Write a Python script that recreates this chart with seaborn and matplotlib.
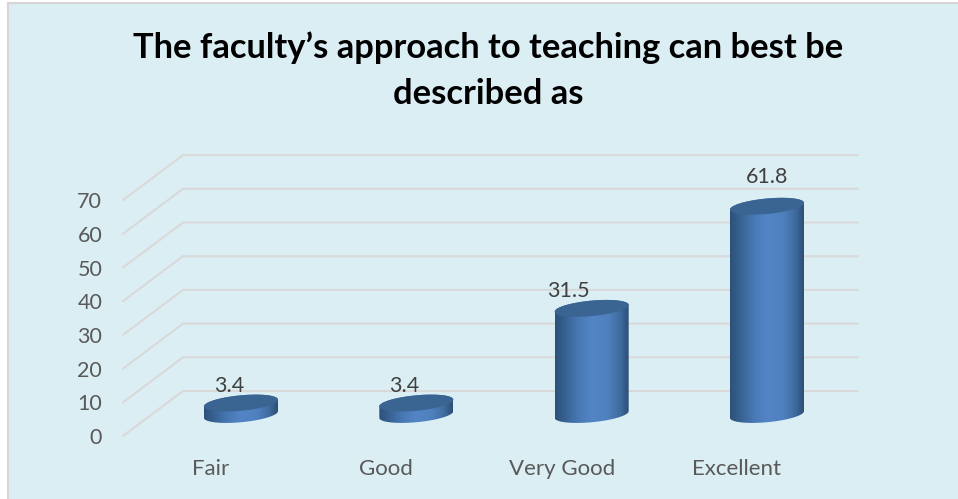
import numpy as np
import pandas as pd
import matplotlib
matplotlib.use("Agg")
import matplotlib.pyplot as plt
import seaborn as sns
from matplotlib.colors import LinearSegmentedColormap
from matplotlib.path import Path
from matplotlib.patches import PathPatch, Rectangle
from matplotlib.transforms import Affine2D

categories = ["Fair", "Good", "Very Good", "Excellent"]
values = [3.4, 3.4, 31.5, 61.8]
y_ticks = [0, 10, 20, 30, 40, 50, 60, 70]
title_lines = ["The faculty\u2019s approach to teaching can best be", "described as"]

W, H = 958, 499
BG = "#DBEEF4"
GRID = "#D9D9D9"
PX_X = 175.33          # pixels per category
PX_Y = 3.37            # pixels per value unit
X0, Y0 = 241, 414.5    # pixel of category 0 / value 0 in the bar plane
L, R, T, B = 123, 858, 150, 445

sns.set_style("white")
plt.rcParams["font.family"] = ["Lato", "DejaVu Sans"]

fig = plt.figure(figsize=(W / 100, H / 100), dpi=100, facecolor="white")
fig.add_artist(Rectangle((7.5 / W, 1 - 510 / H), 970 / W, 506.5 / H, zorder=-1,
                         transform=fig.transFigure, facecolor=BG, edgecolor="#D9D5D5", linewidth=1.5))
ax = fig.add_axes([L / W, 1 - B / H, (R - L) / W, (B - T) / H])
ax.patch.set_alpha(0)

df = pd.DataFrame({"category": categories, "value": values})
sns.barplot(data=df, x="category", y="value", color="#4F81BD", width=74 / PX_X, ax=ax, zorder=3)

ax.set_xlim((L - X0) / PX_X, (R - X0) / PX_X)
ax.set_ylim((Y0 - B) / PX_Y, (Y0 - T) / PX_Y)
ax.set_xlabel("")
ax.set_ylabel("")
sns.despine(ax=ax, left=True, bottom=True)

# perspective grid: front edge -> back wall -> right end
FRONT_DROP, BACK_RISE, BACK_X = 21.5, 23.5, 183
def dx(px):
    return (px - X0) / PX_X
for v in y_ticks:
    ys = [v - FRONT_DROP / PX_Y, v + BACK_RISE / PX_Y, v + BACK_RISE / PX_Y]
    ax.plot([dx(L), dx(BACK_X), dx(R)], ys, color=GRID, lw=1.5, zorder=1, clip_on=False)

# cylinders derived from the bars seaborn made
cmap = LinearSegmentedColormap.from_list("cyl", [
    (0.0, "#2E5079"), (0.12, "#35608F"), (0.32, "#4878B4"), (0.5, "#5385C6"),
    (0.72, "#4F80BE"), (0.88, "#3F6C9F"), (1.0, "#2D4E75")])
grad = np.linspace(0, 1, 256).reshape(1, -1)
TILT = np.deg2rad(5.4)
SEMI_B = 7.7

def ellipse(xc, yc, t):
    a = (74 / 2) / np.cos(TILT)
    ex = a * np.cos(t) * np.cos(TILT) - SEMI_B * np.sin(t) * np.sin(TILT)
    ey = a * np.cos(t) * np.sin(TILT) + SEMI_B * np.sin(t) * np.cos(TILT)
    return xc + ex / PX_X, yc + ey / PX_Y

for bar in list(ax.patches):
    xc = bar.get_x() + bar.get_width() / 2
    h = bar.get_height()
    x_left, bar_w = bar.get_x(), bar.get_width()
    bar.set_alpha(0)
    lower = np.linspace(np.pi, 2 * np.pi, 60)
    upper = np.linspace(0, np.pi, 60)
    bx, by = ellipse(xc, 0, lower)
    tx, ty = ellipse(xc, h, upper)
    body = Path(np.column_stack([np.r_[bx, tx, bx[0]], np.r_[by, ty, by[0]]]), closed=False)
    patch = PathPatch(body, facecolor="none", edgecolor="none", transform=ax.transData)
    ax.add_patch(patch)
    im = ax.imshow(grad, cmap=cmap, aspect="auto", zorder=3,
                   extent=[x_left, x_left + bar_w, by.min(), ty.max()])
    im.set_clip_path(patch)
    ex, ey = ellipse(xc, h, np.linspace(0, 2 * np.pi, 120))
    ax.fill(ex, ey, color="#3A6491", zorder=4, lw=0)

ax.set_xlim((L - X0) / PX_X, (R - X0) / PX_X)
ax.set_ylim((Y0 - B) / PX_Y, (Y0 - T) / PX_Y)

# value labels
label_dx = [-12, -12, -23, 0]
label_dy = [17, 17, 17, 29]
for i, v in enumerate(values):
    ax.text(i + label_dx[i] / PX_X, v + label_dy[i] / PX_Y, f"{v}", ha="center", va="center",
            fontsize=15.5, color="#404040", zorder=5)

# axis labels
ax.set_yticks(y_ticks)
ax.set_yticklabels([str(v) for v in y_ticks])
ax.set_xticks(range(len(categories)))
ax.set_xticklabels(categories)
ax.tick_params(axis="y", length=0, pad=15, labelsize=15.5, labelcolor="#595959")
ax.tick_params(axis="x", length=0, pad=10, labelsize=16, labelcolor="#595959")
for lab in ax.get_yticklabels():
    lab.set_transform(lab.get_transform() + Affine2D().translate(0, -FRONT_DROP))
for lab in ax.get_xticklabels():
    lab.set_transform(lab.get_transform() + Affine2D().translate(-30, 0))

for line, baseline in zip(title_lines, [58, 103.5]):
    fig.text(488 / W, 1 - baseline / H, line, ha="center", va="baseline", fontsize=24.85,
             fontweight="bold", color="black")

fig.savefig("out.png", dpi=100)
